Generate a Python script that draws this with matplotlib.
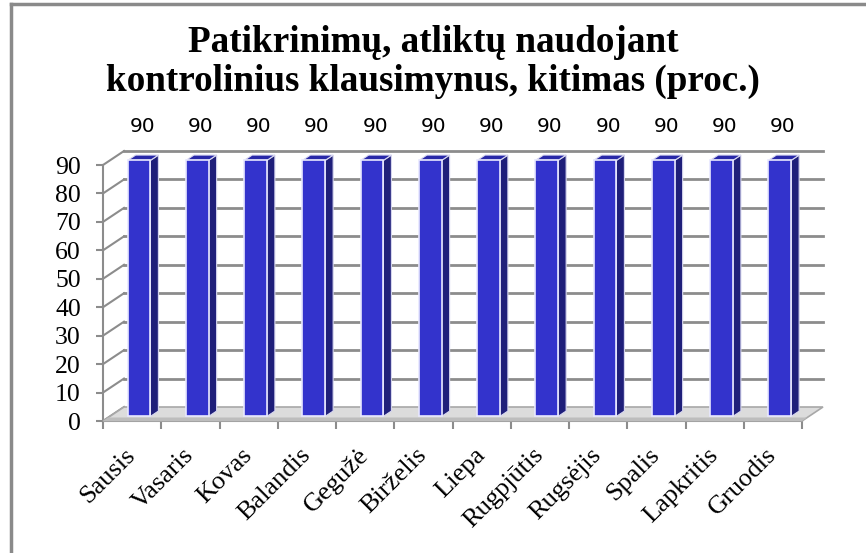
import matplotlib
matplotlib.use("Agg")
import matplotlib.pyplot as plt
import numpy as np
from matplotlib.patches import Polygon
from matplotlib.lines import Line2D
from matplotlib.transforms import IdentityTransform

months = ["Sausis", "Vasaris", "Kovas", "Balandis", "Gegužė", "Birželis",
          "Liepa", "Rugpjūtis", "Rugsėjis", "Spalis", "Lapkritis", "Gruodis"]
values = [90, 90, 90, 90, 90, 90, 90, 90, 90, 90, 90, 90]
yticks = [0, 10, 20, 30, 40, 50, 60, 70, 80, 90]
title = "Patikrinimų, atliktų naudojant\nkontrolinius klausimynus, kitimas (proc.)"

W, H = 866, 553
DPI = 100
fig = plt.figure(figsize=(W / DPI, H / DPI), dpi=DPI)
fig.patch.set_facecolor("white")

# front plane of the pseudo-3D chart
ax = fig.add_axes([103 / W, 132 / H, 699 / W, 256 / H])
ax.set_xlim(-0.5, len(months) - 0.5)
ax.set_ylim(0, 90)
ax.patch.set_alpha(0)

# depth vector (pixels) of the full wall depth
DX, DY = 21.0, 14.0
GRID = "#8c8c8c"


def proj(x, y, f):
    px, py = ax.transData.transform((x, y))
    return (px + f * DX, py + f * DY)


def poly(points, **kw):
    p = Polygon(points, closed=True, transform=IdentityTransform(), **kw)
    fig.add_artist(p)
    return p


def line(points, **kw):
    xs = [p[0] for p in points]
    ys = [p[1] for p in points]
    l = Line2D(xs, ys, transform=IdentityTransform(), **kw)
    fig.add_artist(l)
    return l


x0, x1 = -0.5, len(months) - 0.5

# back wall gridlines and left-wall diagonals
for v in yticks:
    if v > 0:
        line([proj(x0, v, 1), proj(x1, v, 1)], color=GRID, lw=2.0, zorder=1)
    line([proj(x0, v, 0), proj(x0, v, 1)], color=GRID, lw=1.5, zorder=1)

# floor
poly([proj(x0, 0, 0), proj(x1, 0, 0), proj(x1, 0, 1), proj(x0, 0, 1)],
     facecolor="#dcdcdc", edgecolor="#a8a8a8", lw=1.2, zorder=2)
poly([proj(x0, 0, 0), proj(x1, 0, 0), proj(x1, 0, 0.25), proj(x0, 0, 0.25)],
     facecolor="#bdbdbd", edgecolor="none", zorder=2)

# bars
bw = 0.39
f0, f1 = 0.33, 0.71
FRONT, SIDE, TOP = "#3333cc", "#1f1f7a", "#2828a8"
for i, v in enumerate(values):
    xl, xr = i - bw / 2, i + bw / 2
    poly([proj(xr, 0, f0), proj(xr, 0, f1), proj(xr, v, f1), proj(xr, v, f0)],
         facecolor=SIDE, edgecolor="#d8d8f0", lw=0.8, zorder=4)
    poly([proj(xl, v, f0), proj(xr, v, f0), proj(xr, v, f1), proj(xl, v, f1)],
         facecolor=TOP, edgecolor="#d8d8f0", lw=0.8, zorder=4)
    poly([proj(xl, 0, f0), proj(xr, 0, f0), proj(xr, v, f0), proj(xl, v, f0)],
         facecolor=FRONT, edgecolor="#e8e8ff", lw=1.2, zorder=5)
    ax.annotate(str(v), xy=(i, v), xytext=(10, 38), textcoords="offset pixels",
                ha="center", va="center", fontsize=14.5, family="DejaVu Sans",
                color="black")

# axes styling
for s in ["top", "right"]:
    ax.spines[s].set_visible(False)
for s in ["left", "bottom"]:
    ax.spines[s].set_color(GRID)
    ax.spines[s].set_linewidth(1.5)

ax.set_yticks(yticks)
ax.set_yticklabels([str(t) for t in yticks], family="Liberation Serif",
                   fontsize=18.5)
ax.tick_params(axis="y", length=5, width=1.5, color=GRID, pad=11)

ax.set_xticks(range(len(months)))
ax.set_xticklabels(months, family="Liberation Serif", fontsize=19)
ax.set_xticks(np.arange(-0.5, len(months), 1.0), minor=True)
ax.tick_params(axis="x", which="major", length=0, pad=22)
ax.tick_params(axis="x", which="minor", length=6, width=1.5, color=GRID)
for lab in ax.get_xticklabels():
    lab.set_rotation(45)
    lab.set_ha("right")
    lab.set_va("center")
    lab.set_rotation_mode("anchor")

fig.text(0.5, 1 - 62 / H, title, ha="center", va="center",
         family="Liberation Serif", fontweight="bold", fontsize=26.7,
         linespacing=1.15)

# outer border (top and left)
fig.add_artist(Line2D([11, W], [H - 4, H - 4], transform=IdentityTransform(),
                      color="#8a8a8a", lw=2.5))
fig.add_artist(Line2D([11, 11], [0, H - 4], transform=IdentityTransform(),
                      color="#8a8a8a", lw=2.5))

fig.savefig("out.png", dpi=DPI)
